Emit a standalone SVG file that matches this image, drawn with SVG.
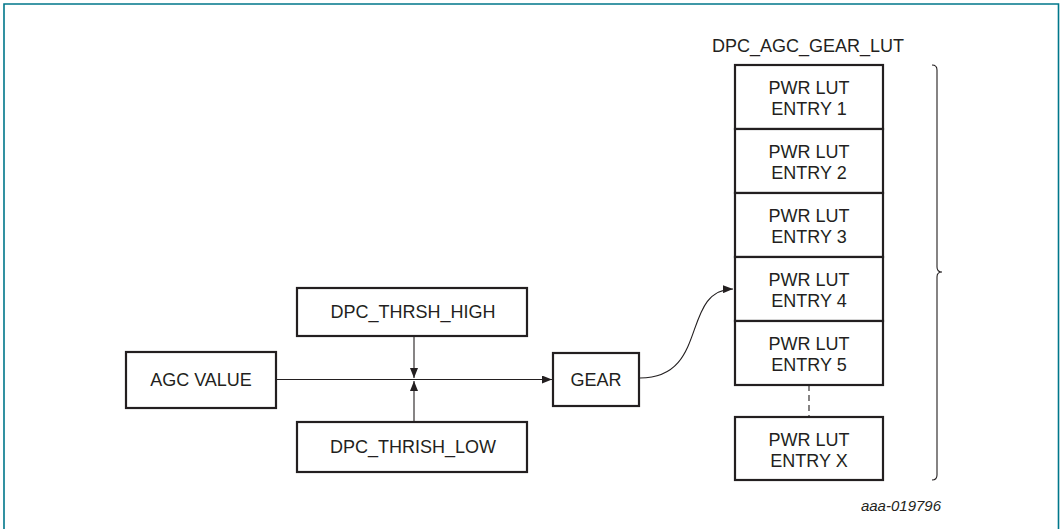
<svg xmlns="http://www.w3.org/2000/svg" width="1063" height="529" viewBox="0 0 1063 529">
<style>
.box{fill:#fff;stroke:#231f20;stroke-width:2.2}
.t{font-family:"Liberation Sans",Arial,sans-serif;font-size:18px;fill:#231f20;text-anchor:middle}
.c{fill:none;stroke:#231f20;stroke-width:1.1}
</style>
<defs>
<marker id="ah" viewBox="0 0 10 8" refX="10" refY="4" markerWidth="10" markerHeight="8" markerUnits="userSpaceOnUse" orient="auto">
<path d="M0,0 L10,4 L0,8 Z" fill="#231f20"/>
</marker>
</defs>
<rect width="1063" height="529" fill="#fff"/>
<path d="M4,529 V4 H1058.5 V529" fill="none" stroke="#00778b" stroke-width="1.6"/>
<g id="connectors">
<line class="c" x1="276" y1="379.5" x2="552" y2="379.5" marker-end="url(#ah)"/>
<line class="c" x1="414" y1="336" x2="414" y2="378" marker-end="url(#ah)"/>
<line class="c" x1="414" y1="422" x2="414" y2="381" marker-end="url(#ah)"/>
<path class="c" d="M640,378 C710,378 680,290 733,289" marker-end="url(#ah)"/>
<line x1="809" y1="385" x2="809" y2="417" stroke="#231f20" stroke-width="1.1" stroke-dasharray="6,4"/>
</g>
<g id="agc_value"><rect class="box" x="126" y="352" width="150" height="56"/><text class="t" x="201" y="386">AGC VALUE</text></g>
<g id="thrsh_high"><rect class="box" x="297" y="288" width="230" height="48"/><text class="t" x="413" y="318">DPC_THRSH_HIGH</text></g>
<g id="thrsh_low"><rect class="box" x="297" y="422" width="230" height="50"/><text class="t" x="413" y="453">DPC_THRISH_LOW</text></g>
<g id="gear"><rect class="box" x="553" y="353" width="86" height="53"/><text class="t" x="596" y="386">GEAR</text></g>
<g id="lut_title"><text class="t" x="808" y="52">DPC_AGC_GEAR_LUT</text></g>
<g id="entry1"><rect class="box" x="735" y="65" width="148" height="64"/><text class="t" x="809" y="94">PWR LUT</text><text class="t" x="809" y="115">ENTRY 1</text></g>
<g id="entry2"><rect class="box" x="735" y="129" width="148" height="64"/><text class="t" x="809" y="158">PWR LUT</text><text class="t" x="809" y="179">ENTRY 2</text></g>
<g id="entry3"><rect class="box" x="735" y="193" width="148" height="64"/><text class="t" x="809" y="222">PWR LUT</text><text class="t" x="809" y="243">ENTRY 3</text></g>
<g id="entry4"><rect class="box" x="735" y="257" width="148" height="64"/><text class="t" x="809" y="286">PWR LUT</text><text class="t" x="809" y="307">ENTRY 4</text></g>
<g id="entry5"><rect class="box" x="735" y="321" width="148" height="64"/><text class="t" x="809" y="350">PWR LUT</text><text class="t" x="809" y="371">ENTRY 5</text></g>
<g id="entryx"><rect class="box" x="735" y="417" width="148" height="63"/><text class="t" x="809" y="446">PWR LUT</text><text class="t" x="809" y="467">ENTRY X</text></g>
<g id="brace"><path d="M932,65 Q937,65 937,70 V267 Q937,272 942,272 Q937,272 937,277 V475 Q937,480 932,480" fill="none" stroke="#231f20" stroke-width="1.1"/></g>
<text x="941" y="511" style="font-family:'Liberation Sans',Arial,sans-serif;font-size:15px;font-style:italic;fill:#231f20;text-anchor:end">aaa-019796</text>
</svg>
